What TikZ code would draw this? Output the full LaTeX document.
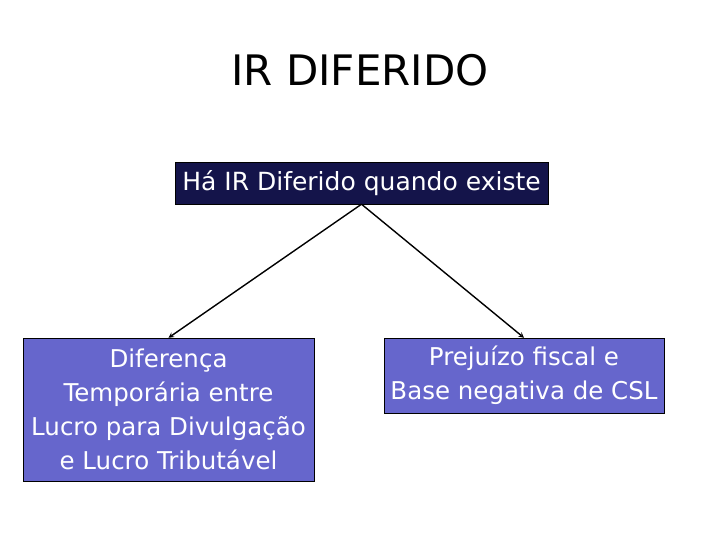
\documentclass[tikz,border=0pt]{standalone}
\usepackage{fontspec}
\setmainfont{DejaVu Sans}
\usetikzlibrary{arrows,positioning}
\definecolor{navy}{RGB}{20,20,74}
\definecolor{lilac}{RGB}{102,102,204}
\begin{document}
\begin{tikzpicture}[x=1pt,y=-1pt,>=stealth,
  topbox/.style={draw=black,fill=navy,text=white,inner sep=0pt,
    minimum width=373pt,minimum height=42pt,font=\fontsize{25}{30}\selectfont},
  subbox/.style={draw=black,fill=lilac,text=white,inner sep=0pt,align=center,
    font=\fontsize{24.5}{34}\selectfont}]
\useasboundingbox[fill=white] (0,0) rectangle (720,540);
\node (title) at (360,70) {\fontsize{42}{50}\selectfont IR DIFERIDO};
\node[topbox] (ir) at (361.5,183) {Há IR Diferido quando existe};
\node[subbox,minimum width=291pt,minimum height=143pt] (dif) at (168.5,409.5)
  {Diferença\\Temporária entre\\Lucro para Divulgação\\e Lucro Tributável};
\node[subbox,minimum width=280pt,minimum height=75pt] (prej) at (524,375.5)
  {Prejuízo fiscal e\\Base negativa de CSL};
\draw[->,line width=1.4pt] (ir.south) -- (dif.north);
\draw[->,line width=1.4pt] (ir.south) -- (prej.north);
\end{tikzpicture}
\end{document}
